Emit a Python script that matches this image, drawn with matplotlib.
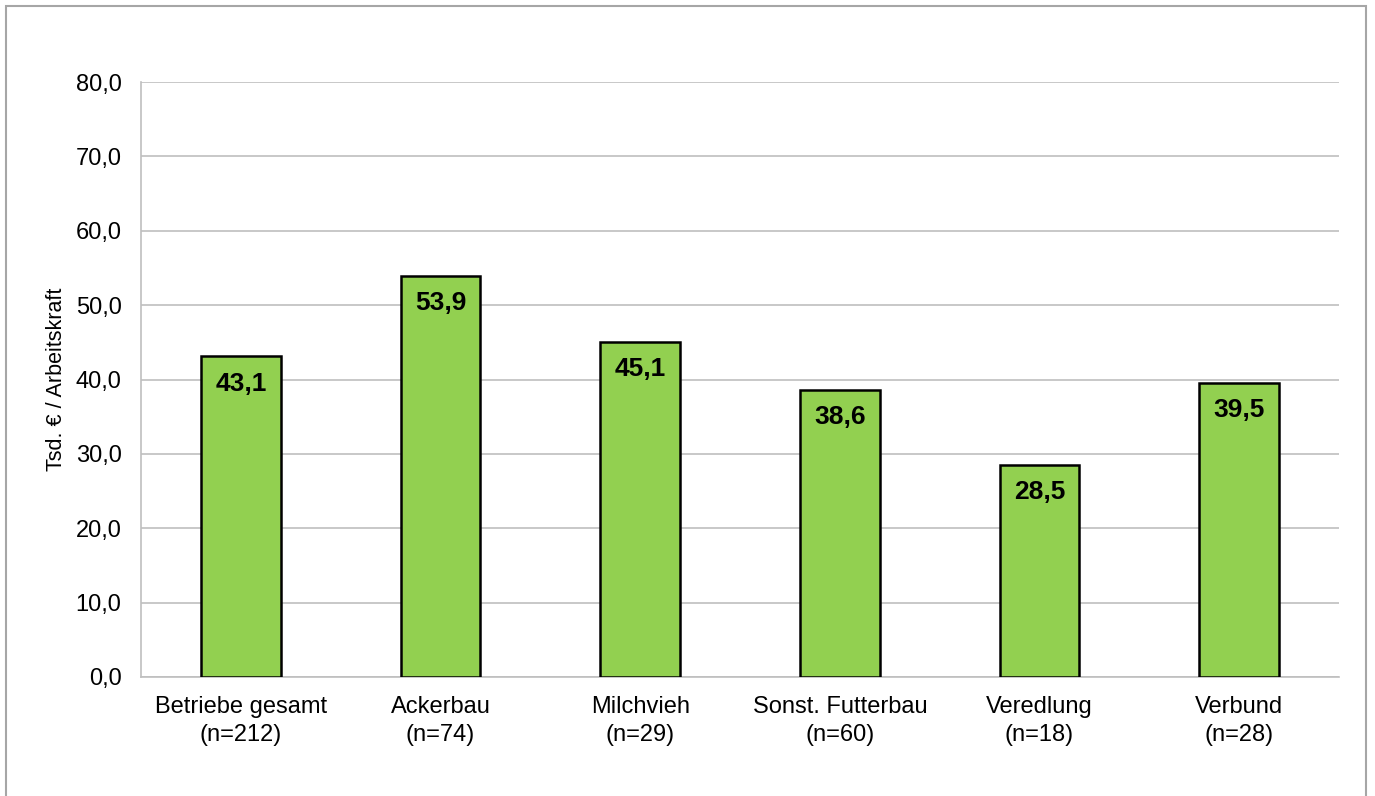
import matplotlib.pyplot as plt
from matplotlib.patches import Rectangle

plt.rcParams['font.family'] = ['Liberation Sans', 'DejaVu Sans']

# Einkommen je Arbeitskraft nach Betriebsform
categories = ['Betriebe gesamt\n(n=212)', 'Ackerbau\n(n=74)', 'Milchvieh\n(n=29)',
              'Sonst. Futterbau\n(n=60)', 'Veredlung\n(n=18)', 'Verbund\n(n=28)']
values = [43.1, 53.9, 45.1, 38.6, 28.5, 39.5]
yticks = [0, 10, 20, 30, 40, 50, 60, 70, 80]

fig = plt.figure(figsize=(13.75, 7.96), dpi=100)
ax = fig.add_axes([141 / 1375, 1 - 677 / 796, 1198 / 1375, 595 / 796])

x = range(len(categories))
bars = ax.bar(x, values, width=0.4, color='#92D050', edgecolor='black', linewidth=1.8, zorder=3)

for b, v in zip(bars, values):
    ax.annotate(f'{v:.1f}'.replace('.', ','), (b.get_x() + b.get_width() / 2, v),
                xytext=(0, -11), textcoords='offset points', ha='center', va='top',
                fontsize=19, fontweight='bold', zorder=4)

ax.set_xlim(-0.5, len(categories) - 0.5)
ax.set_ylim(0, 80)
ax.set_yticks(yticks)
ax.set_yticklabels([f'{t:.1f}'.replace('.', ',') for t in yticks], fontsize=17)
ax.set_xticks(list(x))
ax.set_xticklabels(categories, fontsize=17, linespacing=1.3)
ax.tick_params(axis='both', length=0, colors='black')
ax.tick_params(axis='y', pad=14)
ax.tick_params(axis='x', pad=14)
ax.grid(axis='y', color='#bfbfbf', linewidth=1.2, zorder=0)
for s in ['top', 'right']:
    ax.spines[s].set_visible(False)
for s in ['left', 'bottom']:
    ax.spines[s].set_color('#bfbfbf')
    ax.spines[s].set_linewidth(1.2)
ax.set_ylabel('Tsd. € / Arbeitskraft', fontsize=15.5)
ax.yaxis.set_label_coords(-74 / 1198, 0.5)

# Rahmen um das Diagramm
fig.patches.append(Rectangle((6 / 1375, -0.05), 1360 / 1375, 1 - 6 / 796 + 0.05,
                             transform=fig.transFigure, fill=False,
                             edgecolor='#a6a6a6', linewidth=1.5))

fig.savefig('out.png', dpi=100)
